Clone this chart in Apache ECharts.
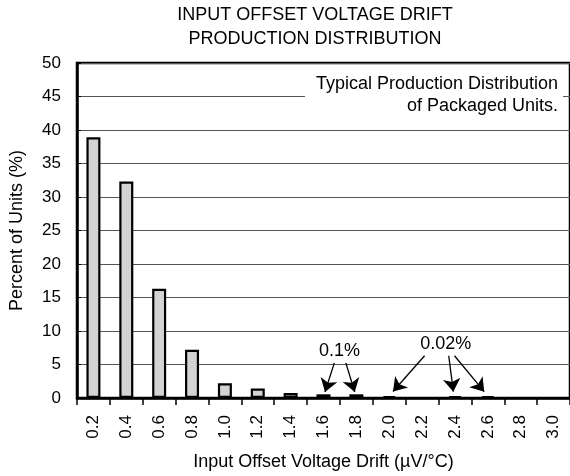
<!DOCTYPE html>
<html>
<head>
<meta charset="utf-8">
<script src="https://cdn.jsdelivr.net/npm/echarts@6/dist/echarts.min.js"></script>
<style>
html,body{margin:0;padding:0;background:#fff;}
#chart{width:570px;height:476px;}
</style>
</head>
<body>
<div id="chart"></div>
<script>
// ---- data ----
var categories = ['0.2','0.4','0.6','0.8','1.0','1.2','1.4','1.6','1.8','2.0','2.2','2.4','2.6','2.8','3.0'];
var percentUnits = [38.9, 32.3, 16.3, 7.2, 2.2, 1.4, 0.75, 0.55, 0.55, 0.3, null, 0.3, 0.3, null, null];
var darkBars = ['2.0','2.4','2.6'];
var yTicks = [0, 5, 10, 15, 20, 25, 30, 35, 40, 45, 50];
// annotation labels [bandPos, percent, text]
var noteLabels = [[7.985, 7.01, '0.1%'], [11.22, 8.03, '0.02%']];
// annotation arrows [[fromBand, fromPct], [toBand, toPct]]
var noteArrows = [
  [[7.83, 5.24], [7.545, 0.9]],
  [[8.18, 5.24], [8.45, 0.9]],
  [[10.576, 6.31], [9.615, 0.97]],
  [[11.31, 6.31], [11.45, 0.94]],
  [[11.485, 6.31], [12.39, 0.94]]
];

var FONT = 'Liberation Sans, Arial, Helvetica, sans-serif';
var chart = echarts.init(document.getElementById('chart'), null, {renderer: 'canvas'});

var barData = categories.map(function (c, i) {
  var v = percentUnits[i];
  if (v === null) return '-';
  if (darkBars.indexOf(c) >= 0) return {value: v, itemStyle: {color: '#000'}};
  return v;
});

var option = {
  animation: false,
  backgroundColor: '#fff',
  grid: {left: 76, top: 63, width: 495, height: 335.3, show: true, borderColor: '#000', borderWidth: 2.5, containLabel: false},
  xAxis: [{
    type: 'category',
    data: categories,
    boundaryGap: true,
    name: 'Input Offset Voltage Drift (\u00b5V/\u00b0C)',
    nameLocation: 'middle',
    nameGap: 55,
    nameTextStyle: {fontFamily: FONT, fontSize: 18, color: '#000'},
    axisLine: {lineStyle: {color: '#000', width: 2.5}},
    axisTick: {show: true, inside: false, length: 7, alignWithLabel: false, lineStyle: {color: '#000', width: 1.5}},
    axisLabel: {rotate: 90, margin: 17, fontFamily: FONT, fontSize: 17, color: '#000', interval: 0},
    splitLine: {show: false}
  }, {
    type: 'value',
    min: 0, max: categories.length,
    show: false
  }],
  yAxis: {
    type: 'value',
    min: yTicks[0], max: yTicks[yTicks.length - 1], interval: 5,
    name: 'Percent of Units (%)',
    nameLocation: 'middle',
    nameGap: 51,
    nameTextStyle: {fontFamily: FONT, fontSize: 18, color: '#000'},
    axisLine: {show: true, lineStyle: {color: '#000', width: 2.5}},
    axisTick: {show: true, inside: true, length: 4, lineStyle: {color: '#000', width: 1}},
    axisLabel: {margin: 16, fontFamily: FONT, fontSize: 17, color: '#000'},
    splitLine: {show: true, lineStyle: {color: '#555', width: 1}}
  },
  graphic: [
    {type: 'text', x: 315, y: 3, z: 10,
     style: {text: 'INPUT OFFSET VOLTAGE DRIFT\nPRODUCTION DISTRIBUTION', align: 'center', verticalAlign: 'top',
             fontFamily: FONT, fontSize: 18, lineHeight: 24, fill: '#000'}},
    {type: 'rect', shape: {x: 305, y: 70, width: 258, height: 50}, style: {fill: '#fff'}, z: 50},
    {type: 'text', x: 558, y: 73, z: 51,
     style: {text: 'Typical Production Distribution\nof Packaged Units.', align: 'right', verticalAlign: 'top',
             fontFamily: FONT, fontSize: 18, lineHeight: 22, fill: '#000'}}
  ],
  series: [{
    type: 'bar',
    data: barData,
    barWidth: 14,
    itemStyle: {color: '#d3d3d3', borderColor: '#000', borderWidth: 2.2},
    z: 3
  }, {
    type: 'lines',
    coordinateSystem: 'cartesian2d',
    xAxisIndex: 1, yAxisIndex: 0,
    symbol: ['none', 'arrow'],
    symbolSize: 13,
    lineStyle: {color: '#000', width: 1.3, opacity: 1},
    data: noteArrows.map(function (a) { return {coords: a}; }),
    z: 5
  }, {
    type: 'scatter',
    xAxisIndex: 1, yAxisIndex: 0,
    symbolSize: 0,
    itemStyle: {color: '#000', opacity: 1},
    data: noteLabels.map(function (n) { return {value: [n[0], n[1]], name: n[2]}; }),
    label: {show: true, position: 'inside', formatter: '{b}', fontFamily: FONT, fontSize: 18,
            color: '#000', textBorderWidth: 0, opacity: 1},
    emphasis: {disabled: true},
    z: 6
  }]
};
chart.setOption(option);
</script>
</body>
</html>
